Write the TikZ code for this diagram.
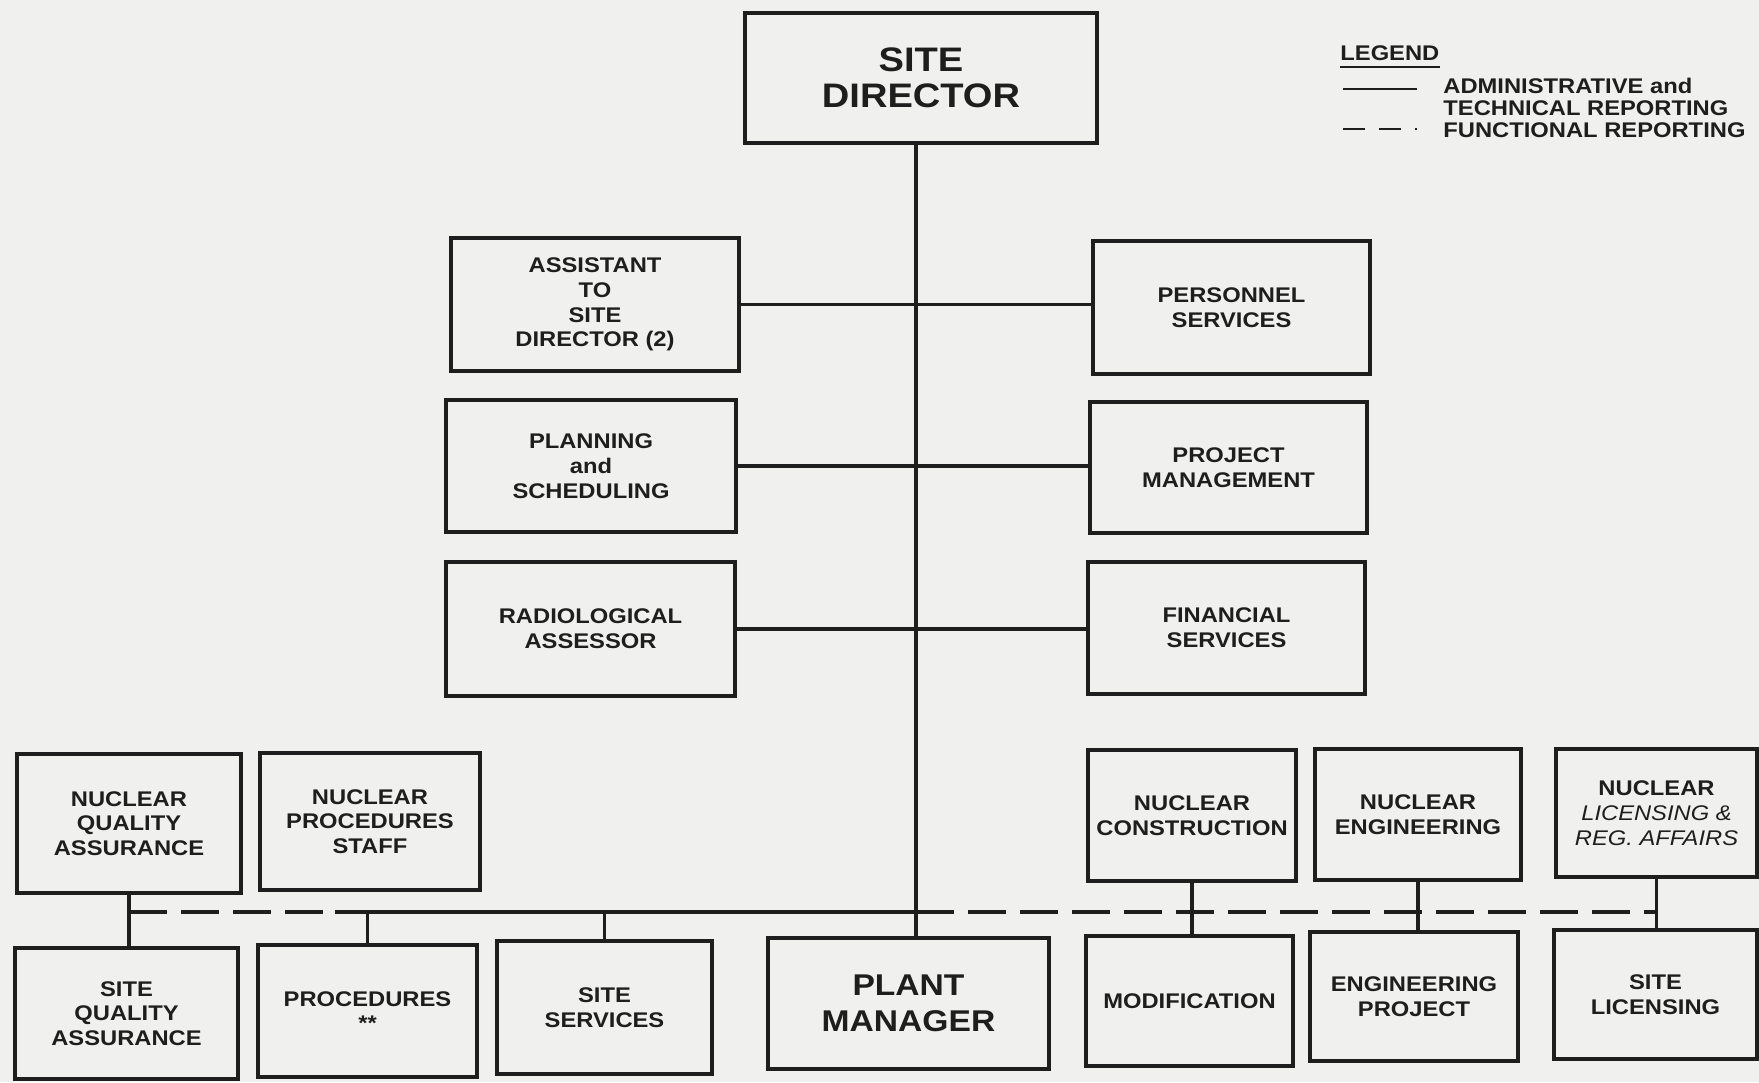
\documentclass[tikz,border=0pt]{standalone}
\usepackage{fontspec}
\setmainfont{Liberation Sans}[FakeStretch=1.12]
\definecolor{bg}{RGB}{240,240,238}
\definecolor{ink}{RGB}{30,30,30}
\begin{document}
\begin{tikzpicture}[x=0.5pt,y=-0.5pt,
  box/.style={draw=ink, line width=1.6pt, align=center, inner sep=2pt,
    font=\fontsize{10.6}{12.4}\selectfont\bfseries, text=ink},
  bsize/.style 2 args={minimum width=#1, minimum height=#2},
  link/.style={draw=ink, line width=1.7pt},
  func/.style={draw=ink, line width=1.7pt, dash pattern=on 19pt off 7pt},
  legtext/.style={anchor=west, inner sep=0pt, text=ink,
    font=\fontsize{10.6}{12.4}\selectfont\bfseries},
]
\fill[bg] (0,0) rectangle (1759,1082);
\useasboundingbox (0,0) rectangle (1759,1082);

% top
\node[box, bsize={176pt}{65pt}, font=\fontsize{17}{18}\selectfont\bfseries] (sd) at (921,78) {SITE\\DIRECTOR};

% staff rows
\node[box, bsize={144pt}{66.5pt}] (asst) at (595,304.5) {ASSISTANT\\TO\\SITE\\DIRECTOR (2)};
\node[box, bsize={138.5pt}{66.5pt}] (pers) at (1231.5,307.5) {PERSONNEL\\SERVICES};
\node[box, bsize={145pt}{66pt}] (plan) at (591,466) {PLANNING\\and\\SCHEDULING};
\node[box, bsize={138.5pt}{65.5pt}] (proj) at (1228.5,467.5) {PROJECT\\MANAGEMENT};
\node[box, bsize={144.5pt}{67pt}] (rad) at (590.5,629) {RADIOLOGICAL\\ASSESSOR};
\node[box, bsize={138.5pt}{66pt}] (fin) at (1226.5,628) {FINANCIAL\\SERVICES};

% upper row of lower section
\node[box, bsize={112pt}{69.5pt}] (nqa) at (129,823.5) {NUCLEAR\\QUALITY\\ASSURANCE};
\node[box, bsize={110pt}{68.5pt}] (nps) at (370,821.5) {NUCLEAR\\PROCEDURES\\STAFF};
\node[box, bsize={104pt}{65.5pt}] (nc) at (1192,815.5) {NUCLEAR\\CONSTRUCTION};
\node[box, bsize={103pt}{65.5pt}] (ne) at (1418,814.5) {NUCLEAR\\ENGINEERING};
\node[box, bsize={100.5pt}{64pt}] (nl) at (1656.5,813) {NUCLEAR\\{\normalfont\itshape LICENSING \&}\\{\normalfont\itshape REG. AFFAIRS}};

% bottom row
\node[box, bsize={111.5pt}{65.5pt}] (sqa) at (126.5,1013.5) {SITE\\QUALITY\\ASSURANCE};
\node[box, bsize={109.5pt}{66pt}] (proc) at (367.5,1011) {PROCEDURES\\**};
\node[box, bsize={107.5pt}{66.5pt}] (ss) at (604.5,1007.5) {SITE\\SERVICES};
\node[box, bsize={140.5pt}{65.5pt}, font=\fontsize{15}{18}\selectfont\bfseries] (pm) at (908.5,1003.5) {PLANT\\MANAGER};
\node[box, bsize={103.5pt}{65pt}] (mod) at (1189.5,1001) {MODIFICATION};
\node[box, bsize={104pt}{64.5pt}] (ep) at (1414,996.5) {ENGINEERING\\PROJECT};
\node[box, bsize={101.5pt}{64.5pt}] (sl) at (1655.5,994.5) {SITE\\LICENSING};

% helper coordinates
\coordinate (spine) at (916,0);
\coordinate (bus) at (0,912);
\coordinate (split) at (335,912);

% main spine
\draw[link] (sd.south -| spine) -- (pm.north -| spine);
% staff branches
\draw[link] (asst.east) -- (asst.east -| pers.west);
\draw[link] (plan.east) -- (plan.east -| proj.west);
\draw[link] (rad.east) -- (rad.east -| fin.west);

% bus
\draw[func] (nqa.south |- bus) -- (split);
\draw[link] (split) -- (spine |- bus);
\draw[func] (spine |- bus) -- (nl.south |- bus);

% stems
\draw[link] (nqa.south) -- (nqa.south |- sqa.north);
\draw[link] (proc.north |- bus) -- (proc.north);
\draw[link] (ss.north |- bus) -- (ss.north);
\draw[link] (nc.south) -- (nc.south |- mod.north);
\draw[link] (ne.south) -- (ne.south |- ep.north);
\draw[link] (nl.south) -- (nl.south |- sl.north);

% legend
\node[legtext] (lg) at (1340,53) {LEGEND};
\draw[draw=ink, line width=0.8pt] ([yshift=-3pt]lg.south west) -- ([yshift=-3pt]lg.south east);
\coordinate (la1) at (1343,89);
\coordinate (la2) at (1417,89);
\draw[link, line width=1.2pt] (la1) -- (la2);
\node[legtext] (lt1) at (1443,86) {ADMINISTRATIVE and};
\node[legtext] (lt2) at (1443,108) {TECHNICAL REPORTING};
\coordinate (lf1) at (1343,129);
\coordinate (lf2) at (1417,129);
\draw[func, line width=1.2pt, dash pattern=on 11pt off 7pt] (lf1) -- (lf2);
\node[legtext] (lt3) at (1443,130) {FUNCTIONAL REPORTING};
\end{tikzpicture}
\end{document}
